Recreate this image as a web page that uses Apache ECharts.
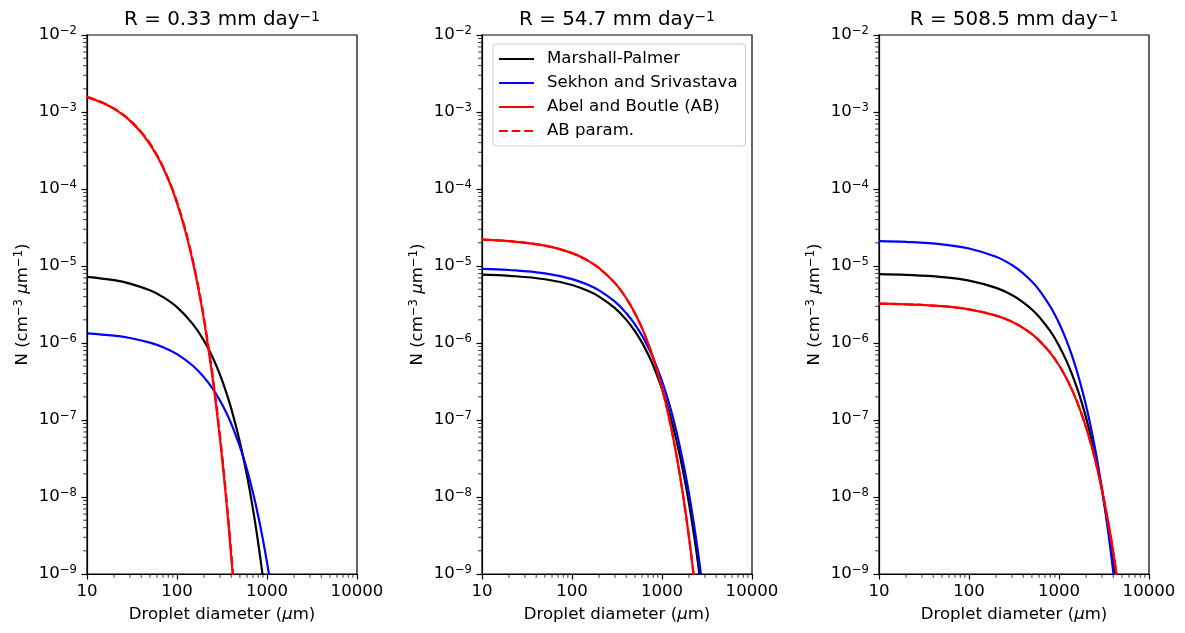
<!DOCTYPE html>
<html>
<head>
<meta charset="utf-8">
<script src="https://cdn.jsdelivr.net/npm/echarts@6/dist/echarts.min.js"></script>
<style>html,body{margin:0;padding:0;background:#fff}#c{width:1185px;height:633px}</style>
</head>
<body>
<div id="c"></div>
<script>
// ---- data ----
const rainRates = ['0.33', '54.7', '508.5'];
const legendNames = ['Marshall-Palmer', 'Sekhon and Srivastava', 'Abel and Boutle (AB)', 'AB param.'];
const xTickLabels = ['10', '100', '1000', '10000'];
const xMinorTicks = [20,30,40,50,60,70,80,90,200,300,400,500,600,700,800,900,2000,3000,4000,5000,6000,7000,8000,9000];
const yMinorTicks = [2e-9,3e-9,4e-9,5e-9,6e-9,7e-9,8e-9,9e-9,2e-8,3e-8,4e-8,5e-8,6e-8,7e-8,8e-8,9e-8,2e-7,3e-7,4e-7,5e-7,6e-7,7e-7,8e-7,9e-7,2e-6,3e-6,4e-6,5e-6,6e-6,7e-6,8e-6,9e-6,2e-5,3e-5,4e-5,5e-5,6e-5,7e-5,8e-5,9e-5,2e-4,3e-4,4e-4,5e-4,6e-4,7e-4,8e-4,9e-4,2e-3,3e-3,4e-3,5e-3,6e-3,7e-3,8e-3,9e-3];

// Panel 1 (R = 0.33 mm/day)
const d1 = [10,20,30,50,70,100,150,200,250,300,350,400,500,600,700,800,900,1000,1100];
const mp1 = [7.23e-6,6.54e-6,5.91e-6,4.83e-6,3.95e-6,2.92e-6,1.76e-6,1.064e-6,6.42e-7,3.88e-7,2.34e-7,1.414e-7,5.15e-8,1.88e-8,6.85e-9,2.50e-9,9.10e-10,3.32e-10,1.21e-10];
const ss1 = [1.334e-6,1.245e-6,1.162e-6,1.012e-6,8.81e-7,7.16e-7,5.07e-7,3.58e-7,2.54e-7,1.79e-7,1.27e-7,8.98e-8,4.50e-8,2.25e-8,1.127e-8,5.64e-9,2.82e-9,1.413e-9,7.07e-10];
const d1ab = [10,15,20,25,30,40,50,60,70,85,100,120,140,160,180,200,250,300,350,400,450];
const ab1 = [1.56e-3,1.308e-3,1.097e-3,9.20e-4,7.72e-4,5.42e-4,3.81e-4,2.68e-4,1.886e-4,1.112e-4,6.56e-5,3.24e-5,1.603e-5,7.93e-6,3.92e-6,1.94e-6,3.33e-7,5.73e-8,9.86e-9,1.695e-9,2.91e-10];
const abp1 = [1.572e-3,1.32e-3,1.109e-3,9.32e-4,7.83e-4,5.52e-4,3.90e-4,2.75e-4,1.939e-4,1.149e-4,6.81e-5,3.39e-5,1.687e-5,8.40e-6,4.18e-6,2.08e-6,3.63e-7,6.35e-8,1.11e-8,1.94e-9,3.39e-10];

// Panel 2 (R = 54.7 mm/day)
const d2 = [10,20,50,100,150,200,300,400,500,600,700,800,1000,1200,1400,1600,1800,2000,2200,2400,2600,2800];
const mp2 = [7.73e-6,7.46e-6,6.73e-6,5.67e-6,4.77e-6,4.01e-6,2.84e-6,2.01e-6,1.426e-6,1.010e-6,7.15e-7,5.07e-7,2.54e-7,1.275e-7,6.40e-8,3.21e-8,1.61e-8,8.08e-9,4.05e-9,2.03e-9,1.02e-9,5.12e-10];
const ss2 = [9.18e-6,8.87e-6,8.01e-6,6.76e-6,5.71e-6,4.82e-6,3.44e-6,2.45e-6,1.746e-6,1.245e-6,8.87e-7,6.32e-7,3.21e-7,1.632e-7,8.29e-8,4.21e-8,2.14e-8,1.087e-8,5.52e-9,2.81e-9,1.426e-9,7.24e-10];
const ab2 = [2.20e-5,2.10e-5,1.839e-5,1.47e-5,1.174e-5,9.38e-6,5.99e-6,3.82e-6,2.44e-6,1.56e-6,9.96e-7,6.36e-7,2.59e-7,1.057e-7,4.31e-8,1.758e-8,7.17e-9,2.92e-9,1.191e-9,4.86e-10,1.98e-10,8.07e-11];
const abp2 = [2.20e-5,2.10e-5,1.839e-5,1.47e-5,1.174e-5,9.38e-6,5.99e-6,3.82e-6,2.44e-6,1.56e-6,9.96e-7,6.36e-7,2.59e-7,1.057e-7,4.31e-8,1.758e-8,7.17e-9,2.92e-9,1.191e-9,4.86e-10,1.98e-10,8.07e-11];

// Panel 3 (R = 508.5 mm/day)
const d3 = [10,20,50,100,200,300,400,500,600,800,1000,1200,1400,1600,1800,2000,2250,2500,2750,3000,3250,3500,3750,4000,4250,4500];
const mp3 = [7.83e-6,7.66e-6,7.18e-6,6.45e-6,5.20e-6,4.19e-6,3.37e-6,2.72e-6,2.19e-6,1.422e-6,9.23e-7,6.00e-7,3.89e-7,2.53e-7,1.642e-7,1.066e-7,6.21e-8,3.62e-8,2.11e-8,1.231e-8,7.17e-9,4.18e-9,2.44e-9,1.42e-9,8.28e-10,4.83e-10];
const ss3 = [2.11e-5,2.06e-5,1.914e-5,1.69e-5,1.32e-5,1.03e-5,8.04e-6,6.28e-6,4.90e-6,2.98e-6,1.818e-6,1.108e-6,6.75e-7,4.11e-7,2.50e-7,1.526e-7,8.21e-8,4.42e-8,2.38e-8,1.28e-8,6.89e-9,3.71e-9,2.00e-9,1.074e-9,5.78e-10,3.11e-10];
const ab3 = [3.24e-6,3.18e-6,3.01e-6,2.74e-6,2.27e-6,1.89e-6,1.568e-6,1.302e-6,1.081e-6,7.45e-7,5.14e-7,3.54e-7,2.44e-7,1.683e-7,1.16e-7,8.00e-8,5.02e-8,3.16e-8,1.98e-8,1.245e-8,7.82e-9,4.91e-9,3.09e-9,1.94e-9,1.217e-9,7.65e-10];
const abp3 = [3.24e-6,3.18e-6,3.01e-6,2.74e-6,2.27e-6,1.89e-6,1.568e-6,1.302e-6,1.081e-6,7.45e-7,5.14e-7,3.54e-7,2.44e-7,1.683e-7,1.16e-7,8.00e-8,5.02e-8,3.16e-8,1.98e-8,1.245e-8,7.82e-9,4.91e-9,3.09e-9,1.94e-9,1.217e-9,7.65e-10];

// ---- chart ----
const FONT = 'DejaVu Sans';
const FS = 16.6, FSS = 11.6, FT = 19.9, FTS = 13.9;
const panels = [
  {left: 87, title: rainRates[0], sets: [[d1, mp1], [d1, ss1], [d1ab, ab1], [d1ab, abp1]]},
  {left: 482, title: rainRates[1], sets: [[d2, mp2], [d2, ss2], [d2, ab2], [d2, abp2]]},
  {left: 879, title: rainRates[2], sets: [[d3, mp3], [d3, ss3], [d3, ab3], [d3, abp3]]}
];
const PW = 270, PT = 35, PH = 539;
const colors = ['#000000', '#0000ff', '#ff0000', '#ff0000'];
const dashes = ['solid', 'solid', 'solid', [8.8, 3.8]];

const grid = [], xAxis = [], yAxis = [], series = [], title = [];
panels.forEach((p, i) => {
  grid.push({left: p.left, top: PT, width: PW, height: PH, show: true, borderColor: '#000', borderWidth: 1.2, backgroundColor: '#fff'});
  title.push({
    text: '{t|R = ' + p.title + ' mm day}{s|\u22121}',
    left: p.left + PW / 2, top: 10, textAlign: 'center', padding: 0,
    textStyle: {fontWeight: 'normal', rich: {
      t: {fontFamily: FONT, fontSize: FT, fontWeight: 'normal', color: '#000', lineHeight: 20},
      s: {fontFamily: FONT, fontSize: FTS, fontWeight: 'normal', color: '#000', lineHeight: 14, verticalAlign: 'top'}
    }}
  });
  xAxis.push({
    type: 'log', logBase: 10, gridIndex: i, min: 10, max: 10000,
    axisLine: {show: true, onZero: false, lineStyle: {color: '#000', width: 1.2}},
    axisTick: {show: true, length: 5.5, lineStyle: {color: '#000', width: 1.2}},
    splitLine: {show: false},
    axisLabel: {margin: 9, fontFamily: FONT, fontSize: FS, color: '#000', showMinLabel: true, showMaxLabel: true,
      formatter: v => xTickLabels[Math.round(Math.log10(v)) - 1]},
    name: '{a|Droplet diameter (}{m|\u03bc}{a|m)}', nameLocation: 'middle', nameGap: 31,
    nameTextStyle: {rich: {
      a: {fontFamily: FONT, fontSize: FS, color: '#000', lineHeight: 20},
      m: {fontFamily: FONT, fontSize: FS, color: '#000', lineHeight: 20, fontStyle: 'italic'}
    }}
  });
  yAxis.push({
    type: 'log', logBase: 10, gridIndex: i, min: 1e-9, max: 1e-2,
    axisLine: {show: true, onZero: false, lineStyle: {color: '#000', width: 1.2}},
    axisTick: {show: true, length: 5.5, lineStyle: {color: '#000', width: 1.2}},
    splitLine: {show: false},
    axisLabel: {margin: 10, showMinLabel: true, showMaxLabel: true,
      formatter: v => { const e = Math.round(Math.log10(v)); return '{b|10}{s|' + (e < 0 ? '\u2212' : '') + Math.abs(e) + '}'; },
      rich: {
        b: {fontFamily: FONT, fontSize: FS, color: '#000', lineHeight: 20},
        s: {fontFamily: FONT, fontSize: FSS, color: '#000', lineHeight: 12, verticalAlign: 'top'}
      }},
    name: '{a|N (cm}{s|\u22123}{a| }{m|\u03bc}{a|m}{s|\u22121}{a|)}', nameLocation: 'middle', nameGap: 54, nameRotate: 90,
    nameTextStyle: {rich: {
      a: {fontFamily: FONT, fontSize: FS, color: '#000', lineHeight: 20},
      m: {fontFamily: FONT, fontSize: FS, color: '#000', lineHeight: 20, fontStyle: 'italic'},
      s: {fontFamily: FONT, fontSize: FSS, color: '#000', lineHeight: 12, verticalAlign: 'top'}
    }}
  });
  // minor ticks (positions through the axes' own log scales)
  series.push({
    type: 'scatter', name: 'xminor' + i, xAxisIndex: i, yAxisIndex: i, silent: true, clip: false,
    data: xMinorTicks.map(v => [v, 1e-9]), symbol: 'rect', symbolSize: [1, 3.3], symbolOffset: [0, 2.2],
    itemStyle: {color: '#000'}, z: 5, animation: false
  });
  series.push({
    type: 'scatter', name: 'yminor' + i, xAxisIndex: i, yAxisIndex: i, silent: true, clip: false,
    data: yMinorTicks.map(v => [10, v]), symbol: 'rect', symbolSize: [3.3, 1], symbolOffset: [-2.2, 0],
    itemStyle: {color: '#000'}, z: 5, animation: false
  });
  p.sets.forEach((s, k) => {
    series.push({
      type: 'line', name: legendNames[k], xAxisIndex: i, yAxisIndex: i,
      data: s[0].map((x, j) => [x, s[1][j]]),
      symbol: 'none', showSymbol: false, clip: true, animation: false,
      smooth: 0.4,
      lineStyle: {color: colors[k], width: 2.2, type: dashes[k]},
      itemStyle: {color: colors[k]},
      emphasis: {disabled: true}
    });
  });
});

const chart = echarts.init(document.getElementById('c'), null, {renderer: 'canvas'});
chart.setOption({
  animation: false,
  backgroundColor: '#fff',
  title: title,
  grid: grid,
  xAxis: xAxis,
  yAxis: yAxis,
  legend: {
    data: legendNames, orient: 'vertical', left: 493, top: 44,
    itemWidth: 35, itemHeight: 18, itemGap: 6, padding: [6, 8, 6, 5],
    backgroundColor: 'rgba(255,255,255,0.8)', borderColor: '#cccccc', borderWidth: 1, borderRadius: 3,
    selectedMode: false,
    itemStyle: {opacity: 0},
    textStyle: {fontFamily: FONT, fontSize: FS, color: '#000', lineHeight: 18, padding: [0, 0, 0, 8]}
  },
  series: series
});
</script>
</body>
</html>
